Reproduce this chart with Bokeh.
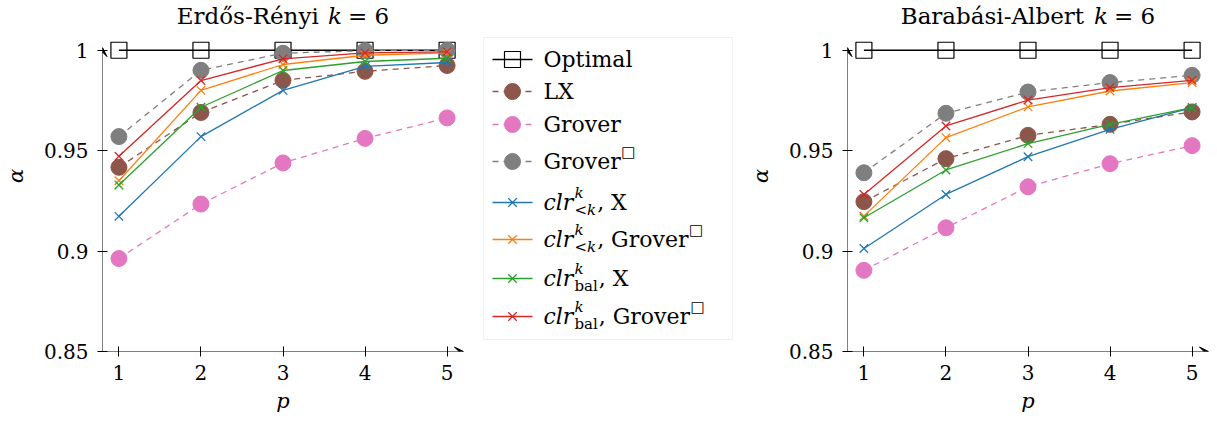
from bokeh.plotting import figure
from bokeh.layouts import row
from bokeh.models import Range1d, FixedTicker, Arrow, VeeHead, Label, BoxAnnotation
from bokeh.embed import file_html
from bokeh.resources import INLINE

FONT = "DejaVu Serif"

# ---------------- data ----------------
p_values = [1, 2, 3, 4, 5]
y_ticks = [0.85, 0.9, 0.95, 1.0]
y_tick_labels = ["0.85", "0.9", "0.95", "1"]

er_optimal = [1.0, 1.0, 1.0, 1.0, 1.0]
er_lx = [0.9417, 0.9690, 0.9850, 0.9895, 0.9924]
er_grover = [0.8963, 0.9234, 0.9439, 0.9561, 0.9663]
er_grover_sq = [0.9570, 0.9900, 0.9985, 0.9998, 1.0000]
er_clr_lt_x = [0.9173, 0.9570, 0.9800, 0.9920, 0.9939]
er_clr_lt_gsq = [0.9350, 0.9800, 0.9929, 0.9975, 0.9987]
er_clr_bal_x = [0.9329, 0.9716, 0.9899, 0.9944, 0.9960]
er_clr_bal_gsq = [0.9472, 0.9849, 0.9957, 0.9987, 0.9992]

ba_optimal = [1.0, 1.0, 1.0, 1.0, 1.0]
ba_lx = [0.9246, 0.9460, 0.9576, 0.9631, 0.9693]
ba_grover = [0.8904, 0.9116, 0.9320, 0.9435, 0.9525]
ba_grover_sq = [0.9390, 0.9686, 0.9792, 0.9839, 0.9875]
ba_clr_lt_x = [0.9013, 0.9282, 0.9470, 0.9606, 0.9714]
ba_clr_lt_gsq = [0.9174, 0.9565, 0.9718, 0.9797, 0.9839]
ba_clr_bal_x = [0.9166, 0.9404, 0.9535, 0.9631, 0.9714]
ba_clr_bal_gsq = [0.9282, 0.9623, 0.9752, 0.9814, 0.9850]

er_series = [er_optimal, er_lx, er_grover, er_grover_sq,
             er_clr_lt_x, er_clr_lt_gsq, er_clr_bal_x, er_clr_bal_gsq]
ba_series = [ba_optimal, ba_lx, ba_grover, ba_grover_sq,
             ba_clr_lt_x, ba_clr_lt_gsq, ba_clr_bal_x, ba_clr_bal_gsq]

colors = ["black", "#8c564b", "#e377c2", "#7f7f7f",
          "#1f77b4", "#ff7f0e", "#2ca02c", "#d62728"]
markers = ["square", "circle", "circle", "circle", "x", "x", "x", "x"]
dashes = ["solid", "6 5", "6 5", "6 5", "solid", "solid", "solid", "solid"]

# approximate advance widths (em) for DejaVu Serif
CW = {"a": .596, "b": .640, "c": .560, "d": .640, "e": .592, "i": .320, "l": .320,
      "n": .640, "o": .602, "ő": .602, "r": .478, "s": .513, "v": .565, "y": .565,
      "é": .592, "á": .596, "k": .612, "t": .401, "-": .338, " ": .318, ",": .318,
      "=": .838, "<": .838, "6": .636, "E": .715, "R": .737, "B": .735, "A": .722,
      "G": .775, "X": .716, "□": .77}

PX_PER_UNIT = 2007.0          # vertical pixels per unit of alpha
TOP_PAD = 49.7                # pixels between frame top and alpha = 1
Y_END = 1.0 + TOP_PAD / PX_PER_UNIT


def tw(s, size):
    return sum(CW.get(ch, .6) for ch in s) * size


def add_text(p, x, y, text, size, style="normal", dx=0, dy=0, align="left",
             baseline="middle"):
    p.add_layout(Label(x=x, y=y, text=text, x_offset=dx, y_offset=dy,
                       text_font=FONT, text_font_size=f"{size}px",
                       text_font_style=style, text_align=align,
                       text_baseline=baseline, text_color="black"))


def draw_marker(p, xs, ys, i):
    if markers[i] == "square":
        p.scatter(xs, ys, marker="square", size=16, fill_color=None,
                  line_color="black", line_width=1.2)
    elif markers[i] == "circle":
        p.scatter(xs, ys, marker="circle", size=16, fill_color=colors[i],
                  line_color=colors[i], line_width=1)
    else:
        p.scatter(xs, ys, marker="x", size=12, line_color=colors[i], line_width=1.3)


def make_plot(title_main, series, width, right_border):
    p = figure(width=width, height=425, x_range=Range1d(0.8, 5.2),
               y_range=Range1d(0.85, Y_END), output_backend="svg",
               toolbar_location=None, min_border_left=100,
               min_border_right=right_border, min_border_top=0,
               min_border_bottom=74)
    p.outline_line_color = None
    p.xgrid.visible = False
    p.ygrid.visible = False
    for ax in (p.xaxis[0], p.yaxis[0]):
        ax.axis_line_color = None
        ax.major_tick_line_color = "black"
        ax.minor_tick_line_color = None
        ax.major_label_text_font = FONT
        ax.major_label_text_font_size = "20px"
        ax.major_label_text_color = "black"
        ax.axis_label_text_font = FONT
        ax.axis_label_text_font_size = "21px"
        ax.axis_label_text_font_style = "italic"
        ax.axis_label_text_color = "black"
        ax.major_tick_in = 5
        ax.major_tick_out = 5
    p.xaxis.ticker = FixedTicker(ticks=p_values)
    p.yaxis.ticker = FixedTicker(ticks=y_ticks)
    p.yaxis.major_label_overrides = {t: l for t, l in zip(y_ticks, y_tick_labels)}
    p.xaxis.axis_label = "p"
    p.yaxis.axis_label = "α"
    p.yaxis.major_label_standoff = 9
    p.yaxis.axis_label_standoff = 13
    p.xaxis.major_label_standoff = 8
    p.xaxis.axis_label_standoff = 6

    # axis lines with arrow heads
    p.add_layout(Arrow(end=VeeHead(size=9, fill_color="black", line_color="black"),
                       x_start=0.8, y_start=0.85, x_end=5.2, y_end=0.85,
                       line_color="black", line_width=1))
    p.add_layout(Arrow(end=VeeHead(size=9, fill_color="black", line_color="black"),
                       x_start=0.8, y_start=0.85, x_end=0.8, y_end=1.0013,
                       line_color="black", line_width=1))

    for i, ys in enumerate(series):
        p.line(p_values, ys, line_color=colors[i], line_width=1.3, line_dash=dashes[i])
        draw_marker(p, p_values, ys, i)

    # title: main text, italic k, "= 6"
    ts = 23
    gap1, gap2 = 10, 6
    wk = tw("k", ts)
    total = tw(title_main, ts) + gap1 + wk + gap2 + tw("= 6", ts)
    x0 = -total / 2
    add_text(p, 3, 1.0, title_main, ts, dx=x0, dy=34)
    add_text(p, 3, 1.0, "k", ts, style="italic", dx=x0 + tw(title_main, ts) + gap1, dy=34)
    add_text(p, 3, 1.0, "= 6", ts, dx=x0 + tw(title_main, ts) + gap1 + wk + gap2, dy=34)
    return p


left = make_plot("Erdős-Rényi", er_series, 475, 12)
right = make_plot("Barabási-Albert", ba_series, 472, 9)

# ---------------- legend (data units = pixels) ----------------
leg = figure(width=270, height=425, x_range=Range1d(0, 270), y_range=Range1d(351, 0),
             output_backend="svg", toolbar_location=None, min_border_left=0,
             min_border_right=0, min_border_top=0, min_border_bottom=74)
leg.outline_line_color = None
leg.xgrid.visible = False
leg.ygrid.visible = False
leg.xaxis.visible = False
leg.yaxis.visible = False
leg.add_layout(BoxAnnotation(left=8, right=257, top=37, bottom=339,
                             fill_color="white", fill_alpha=1,
                             line_color="#cccccc", line_width=1, level="underlay"))

rows_y = [59, 91, 124, 161, 202, 239, 278, 316]
TS, SS = 22, 15
tx = 68
for i, ry in enumerate(rows_y):
    leg.line([17, 57], [ry, ry], line_color=colors[i], line_width=1.3, line_dash=dashes[i])
    draw_marker(leg, [37], [ry], i)

base = rows_y
add_text(leg, tx, base[0], "Optimal", TS)
add_text(leg, tx, base[1], "LX", TS)
add_text(leg, tx, base[2], "Grover", TS)
add_text(leg, tx, base[3], "Grover", TS)
add_text(leg, tx + tw("Grover", TS) + 1, base[3], "□", SS, dy=10)

for j, (sub, rest) in enumerate([("<k", ", X"), ("<k", ", Grover"),
                                 ("bal", ", X"), ("bal", ", Grover")]):
    b = base[4 + j]
    add_text(leg, tx, b, "clr", TS, style="italic")
    xs = tx + tw("clr", TS) + 1
    add_text(leg, xs, b, "k", SS, style="italic", dy=10)
    if sub == "<k":
        add_text(leg, xs, b, "<", SS, dy=-7)
        add_text(leg, xs + tw("<", SS), b, "k", SS, style="italic", dy=-7)
        wsub = tw("<k", SS)
    else:
        add_text(leg, xs, b, "bal", SS, dy=-7)
        wsub = tw("bal", SS)
    xr = xs + max(wsub, tw("k", SS)) + 1
    add_text(leg, xr, b, rest, TS)
    if rest.endswith("Grover"):
        add_text(leg, xr + tw(rest, TS) + 1, b, "□", SS, dy=10)

layout = row(left, leg, right)
open("out.html", "w").write(file_html(layout, INLINE))
